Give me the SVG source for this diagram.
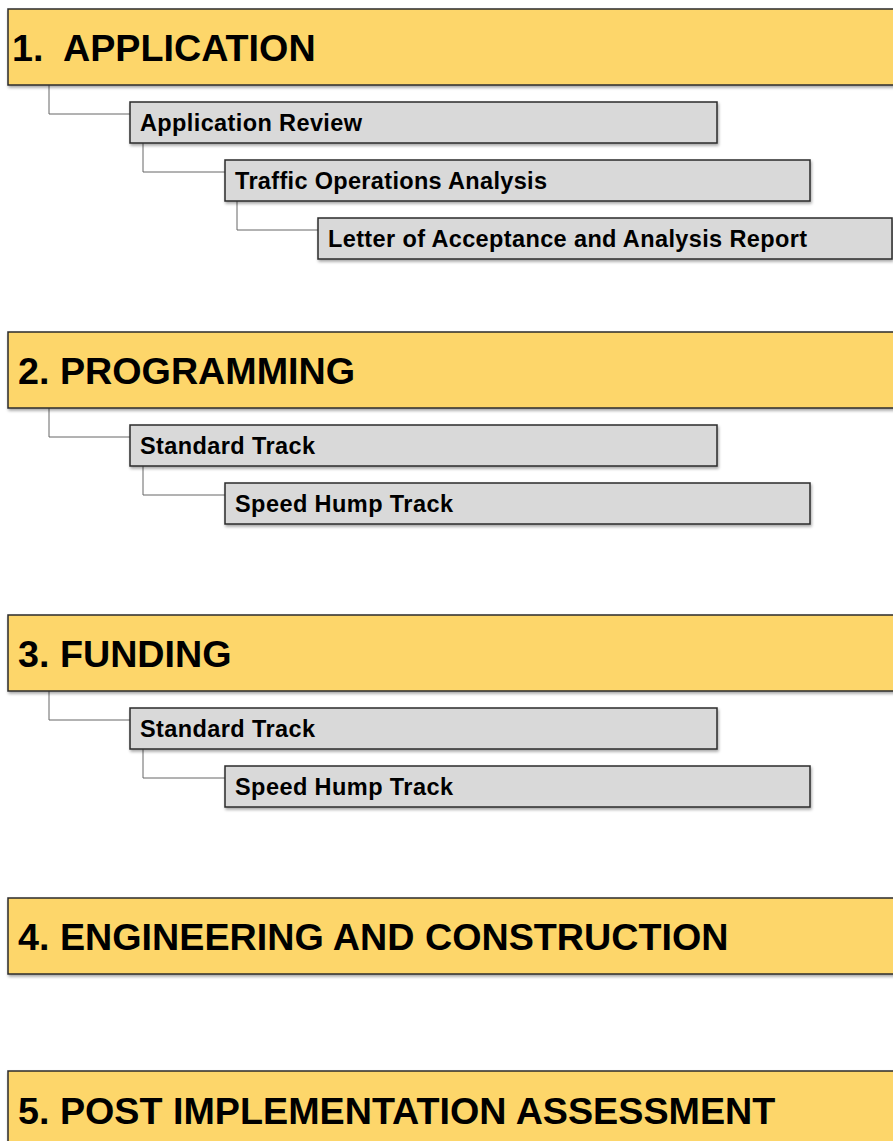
<svg xmlns="http://www.w3.org/2000/svg" width="893" height="1141" viewBox="0 0 893 1141">
<defs>
<filter id="sh" x="-5%" y="-20%" width="110%" height="150%">
<feDropShadow dx="1" dy="2" stdDeviation="1.5" flood-color="#000" flood-opacity="0.35"/>
</filter>
<style>
.hd{fill:#FDD66A;stroke:#2b2b2b;stroke-width:1.5;filter:url(#sh)}
.bx{fill:#D9D9D9;stroke:#2b2b2b;stroke-width:1.5;filter:url(#sh)}
.ht{font-family:"Liberation Sans",Arial,sans-serif;font-weight:bold;font-size:37.7px;fill:#000}
.bt{font-family:"Liberation Sans",Arial,sans-serif;font-weight:bold;font-size:23.5px;fill:#000}
.cn{fill:none;stroke:#666;stroke-width:1}
</style>
</defs>
<rect width="893" height="1141" fill="#fff"/>
<g id="connectors">
<polyline class="cn" points="49,85 49,114 130,114"/>
<polyline class="cn" points="143,143 143,172 225,172"/>
<polyline class="cn" points="237,201 237,230 318,230"/>
<polyline class="cn" points="49,408 49,437 130,437"/>
<polyline class="cn" points="143,466 143,495 225,495"/>
<polyline class="cn" points="49,691 49,720 130,720"/>
<polyline class="cn" points="143,749 143,778 225,778"/>
</g>
<g id="h1"><rect class="hd" x="8" y="9" width="900" height="76"/><text class="ht" x="12" y="61" xml:space="preserve">1.  APPLICATION</text></g>
<g id="n1a"><rect class="bx" x="130" y="102" width="587" height="41"/><text class="bt" x="140" y="131" textLength="222" lengthAdjust="spacing">Application Review</text></g>
<g id="n1b"><rect class="bx" x="225" y="160" width="585" height="41"/><text class="bt" x="235" y="189" textLength="312" lengthAdjust="spacing">Traffic Operations Analysis</text></g>
<g id="n1c"><rect class="bx" x="318" y="218" width="574" height="41"/><text class="bt" x="328" y="247" textLength="479" lengthAdjust="spacing">Letter of Acceptance and Analysis Report</text></g>
<g id="h2"><rect class="hd" x="8" y="332" width="900" height="76"/><text class="ht" x="18" y="384">2. PROGRAMMING</text></g>
<g id="n2a"><rect class="bx" x="130" y="425" width="587" height="41"/><text class="bt" x="140" y="454" textLength="175" lengthAdjust="spacing">Standard Track</text></g>
<g id="n2b"><rect class="bx" x="225" y="483" width="585" height="41"/><text class="bt" x="235" y="512" textLength="218" lengthAdjust="spacing">Speed Hump Track</text></g>
<g id="h3"><rect class="hd" x="8" y="615" width="900" height="76"/><text class="ht" x="18" y="667">3. FUNDING</text></g>
<g id="n3a"><rect class="bx" x="130" y="708" width="587" height="41"/><text class="bt" x="140" y="737" textLength="175" lengthAdjust="spacing">Standard Track</text></g>
<g id="n3b"><rect class="bx" x="225" y="766" width="585" height="41"/><text class="bt" x="235" y="795" textLength="218" lengthAdjust="spacing">Speed Hump Track</text></g>
<g id="h4"><rect class="hd" x="8" y="898" width="900" height="76"/><text class="ht" x="18" y="950">4. ENGINEERING AND CONSTRUCTION</text></g>
<g id="h5"><rect class="hd" x="8" y="1071" width="900" height="90"/><text class="ht" x="18" y="1124">5. POST IMPLEMENTATION ASSESSMENT</text></g>
</svg>
